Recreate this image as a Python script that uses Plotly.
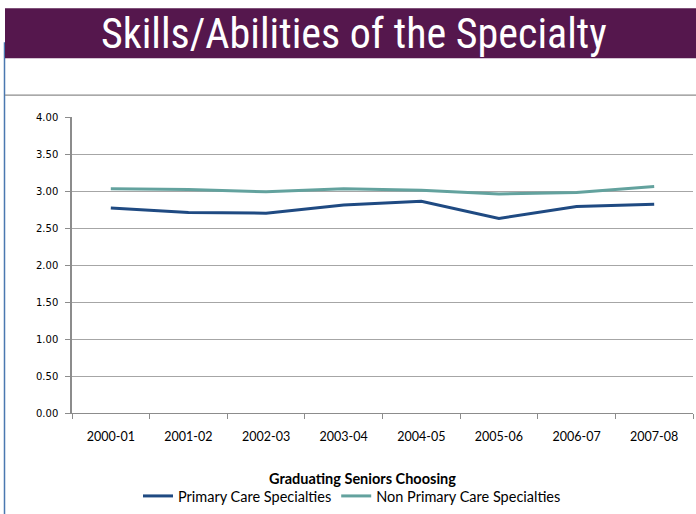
import plotly.graph_objects as go

years = ["2000-01", "2001-02", "2002-03", "2003-04", "2004-05", "2005-06", "2006-07", "2007-08"]
primary_care = [2.77, 2.71, 2.70, 2.81, 2.86, 2.63, 2.79, 2.82]
non_primary_care = [3.03, 3.02, 2.99, 3.03, 3.01, 2.96, 2.98, 3.06]
y_ticks = [0.0, 0.5, 1.0, 1.5, 2.0, 2.5, 3.0, 3.5, 4.0]

W, H = 696, 514
ML, MR, MT, MB = 72, 3, 117, 100
PW, PH = W - ML - MR, H - MT - MB


def px(x):
    return (x - ML) / PW


def py(y):
    return (H - MB - y) / PH


fig = go.Figure()
fig.add_trace(go.Scatter(x=years, y=primary_care, mode="lines",
                         name="Primary Care Specialties",
                         line=dict(color="#1F4A82", width=3)))
fig.add_trace(go.Scatter(x=years, y=non_primary_care, mode="lines",
                         name="Non Primary Care Specialties",
                         line=dict(color="#63A29E", width=3)))

shapes = [
    dict(type="line", xref="paper", yref="paper", x0=px(4.5), x1=px(4.5), y0=py(42), y1=py(520),
         line=dict(color="#4A78B0", width=1.5)),
    dict(type="rect", xref="paper", yref="paper", x0=px(5), x1=px(697), y0=py(58), y1=py(8),
         fillcolor="#55174D", line=dict(width=0), layer="above"),
    dict(type="line", xref="paper", yref="paper", x0=px(5), x1=px(697), y0=py(95), y1=py(95),
         line=dict(color="#8C8C8C", width=1.2)),
]

annotations = [
    dict(text="Skills/Abilities of the Specialty", xref="paper", yref="paper",
         x=px(354), y=py(33), xanchor="center", yanchor="middle", showarrow=False,
         font=dict(family="Liberation Sans Narrow, Roboto Condensed, Arial Narrow, sans-serif",
                   size=42, color="white")),
    dict(text="<b>Graduating Seniors Choosing</b>", xref="paper", yref="paper",
         x=px(362), y=py(480), xanchor="center", yanchor="middle", showarrow=False,
         font=dict(family="Lato, sans-serif", size=14.5, color="#000000")),
]

fig.update_layout(
    width=W, height=H,
    margin=dict(l=ML, r=MR, t=MT, b=MB),
    paper_bgcolor="white", plot_bgcolor="white",
    shapes=shapes, annotations=annotations,
    showlegend=True,
    legend=dict(orientation="h", x=px(138), xanchor="left", y=py(496), yanchor="middle",
                font=dict(family="Lato, sans-serif", size=14.5, color="#000000"),
                bgcolor="rgba(0,0,0,0)", itemwidth=30, tracegroupgap=0),
    xaxis=dict(type="category", range=[-0.5, 7.5], showgrid=False, zeroline=False,
               showline=True, linecolor="#8C8C8C", linewidth=1.2,
               ticks="outside", tickson="boundaries", ticklen=5, tickcolor="#8C8C8C",
               ticklabelstandoff=12,
               tickfont=dict(family="Lato, sans-serif", size=12.5, color="#000000"),
               fixedrange=True),
    yaxis=dict(range=[0, 4], tickvals=y_ticks, tickformat=".2f",
               showgrid=True, gridcolor="#A6A6A6", gridwidth=1, zeroline=False,
               showline=True, linecolor="#8C8C8C", linewidth=1.5,
               ticks="outside", ticklen=5, tickcolor="#8C8C8C",
               ticklabelstandoff=5,
               tickfont=dict(family="DejaVu Sans, sans-serif", size=10, color="#000000"),
               fixedrange=True),
)

fig.write_html("out.html", config={"displayModeBar": False})

with open("out.html", "r", encoding="utf-8") as f:
    html = f.read()
html = html.replace("<head>", "<head><style>html,body{margin:0;padding:0;overflow:hidden;}</style>", 1)
with open("out.html", "w", encoding="utf-8") as f:
    f.write(html)
